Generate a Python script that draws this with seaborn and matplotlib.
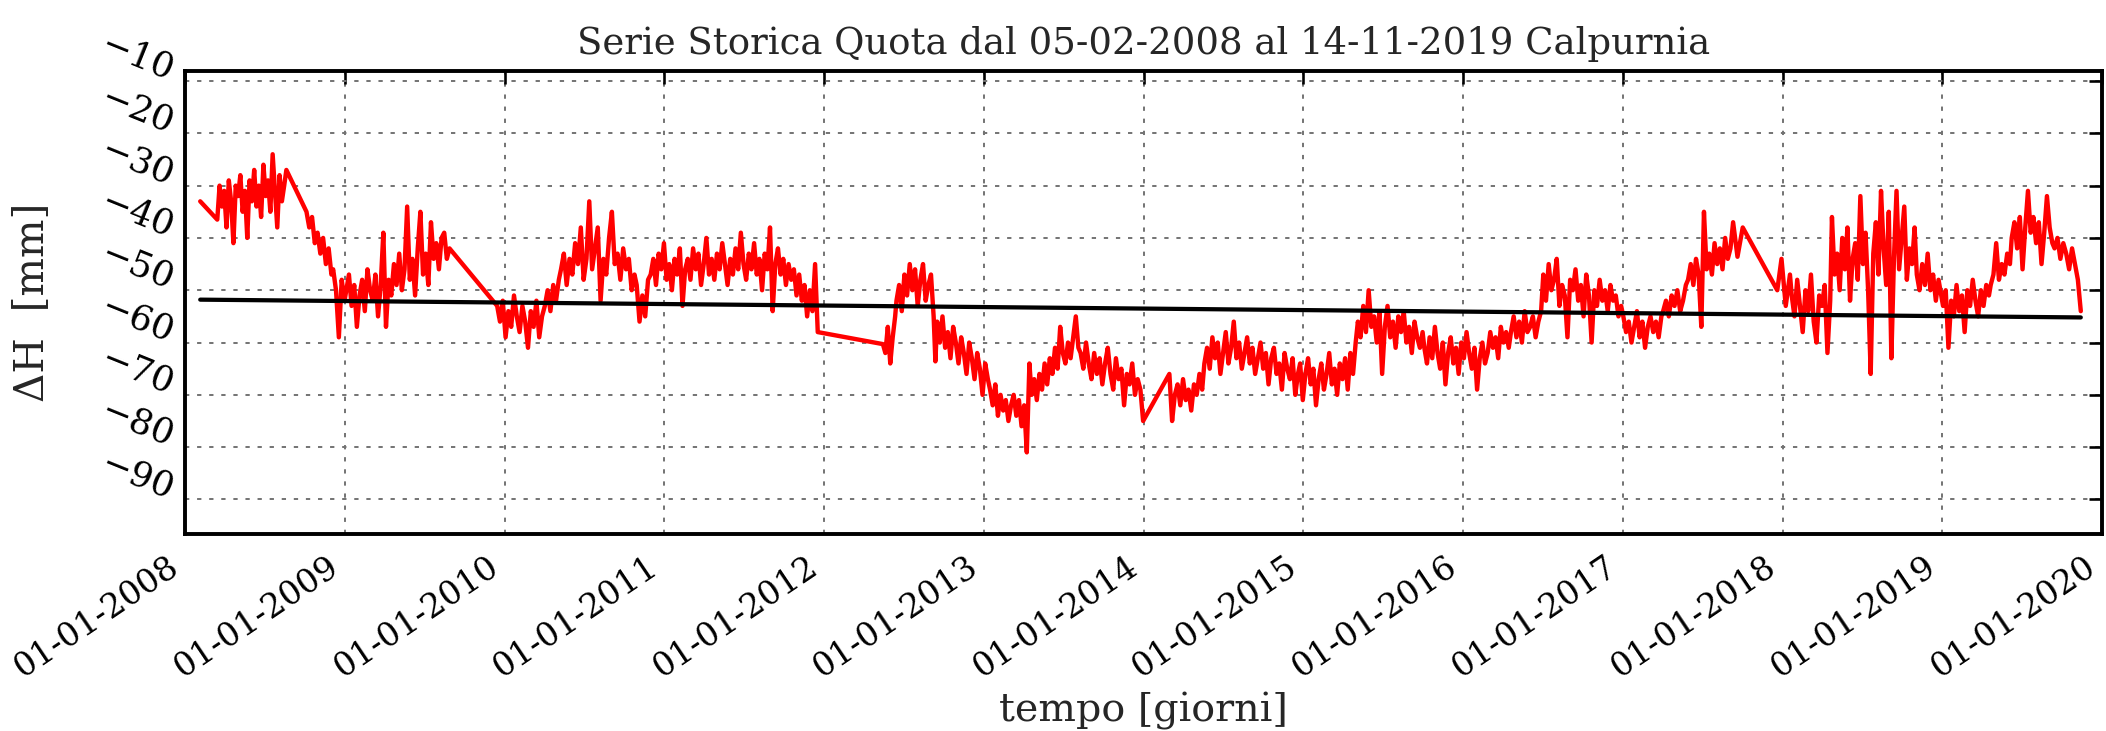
import pandas as pd
import matplotlib
matplotlib.use("Agg")
import matplotlib.pyplot as plt
import matplotlib.dates as mdates
from matplotlib.ticker import MultipleLocator
import seaborn as sns

# quota readings (mm)
q2008_a = [-33]
q2008_b = [-36.5, -30, -34, -31, -38, -29, -33, -41, -30, -32, -28, -35, -31, -40, -29,
           -33, -27, -34, -30, -36, -26, -32, -29, -35, -24, -31, -38, -28, -33, -30]
q2008_c = [-27]
q2008_d = [-35, -38, -36, -41, -39, -43, -40, -45, -42, -47]
q2008_e = [-46, -50, -59, -48, -52]
q2009_a = [-50, -47, -53, -49, -57, -51, -48, -54, -46, -50, -52, -47, -55, -49, -39, -57,
           -48, -51, -45, -49, -43, -50, -46, -34, -48, -44, -51, -42, -35, -47, -43, -49,
           -37, -44, -41, -46, -40, -39, -44, -42]
q2010_a = [-53, -56, -52, -59, -54, -57, -51, -55, -58, -53, -56, -61, -54, -57, -52, -59,
           -55, -53, -50, -54, -49, -52, -48]
q2010_b = [-46, -43, -49, -44, -47, -41, -45, -38, -48, -44, -33, -46, -42, -38, -52, -44,
           -47, -40, -35, -45, -43, -48, -42, -46, -44, -50, -47]
q2010_c = [-49, -56, -51, -55, -48]
q2011_a = [-47, -44, -49, -43, -46, -41, -48, -45, -50, -44, -47, -42, -53, -46, -44, -48,
           -42, -46, -43, -49, -45, -40, -47, -44, -48, -43, -46, -41, -45, -49, -44, -47,
           -42, -46, -39, -45, -48, -43, -46, -41, -47, -44, -50, -43, -46, -38, -54, -45,
           -42, -47, -44, -49, -45, -48, -46, -51, -47, -52, -49, -55, -50, -54, -45, -58]
q2012_a = [-60.3, -62, -57, -64, -59, -55]
q2012_b = [-52, -49, -54, -47, -51, -45, -50, -46, -53, -48, -45, -52, -49, -47, -55]
q2012_c = [-63.6]
q2012_d = [-56, -60, -55, -61, -58, -63, -57, -60, -64, -59, -62, -66, -60, -63, -67, -62,
           -65, -70, -64, -67]
q2013_a = [-69, -72, -68, -74, -70, -73, -71, -75, -72, -70, -74, -71, -76, -72, -81, -64]
q2013_b = [-70, -67, -71, -66, -69, -64, -68, -63, -66, -61, -65, -57, -62, -64, -60, -63,
           -59, -55, -61]
q2013_c = [-62, -65, -60, -64, -67, -62, -66, -63, -68, -64, -61, -66, -69, -63, -67, -65,
           -72, -66, -68, -64, -70, -67, -69, -75]
q2014_a = [-66, -75, -70, -68, -72, -67, -71, -69, -73, -68, -70, -66, -69]
q2014_b = [-64, -61, -65, -59, -63, -60, -66, -62, -58, -64, -61, -56, -63, -60, -65, -62,
           -59, -64, -61, -66, -63, -60, -65, -62, -68, -63, -61, -66, -64, -69, -62, -65,
           -67, -63, -70, -66]
q2015_a = [-64, -71, -66, -63, -68, -65, -72, -67, -64, -69, -66, -62, -68, -65, -70, -64,
           -67, -63, -69, -62, -66, -60]
q2015_b = [-56, -59, -53, -58, -50, -57, -55, -60, -54, -66, -57, -53, -59, -56, -61, -55,
           -58, -54, -60, -57, -62, -56, -59, -61, -58]
q2016_a = [-61, -64, -59, -63, -57, -62, -65, -60, -68, -62, -59, -64, -61, -66, -60, -63,
           -58, -62, -65, -61, -69, -63, -60, -64, -62, -58, -61, -59, -63, -57, -60, -58, -61]
q2016_b = [-58, -55, -59, -56, -60, -54, -58, -57, -55, -59, -56, -54]
q2016_c = [-47, -52, -45, -50, -48, -44, -53, -49, -51, -59, -48, -50, -46, -52, -49, -55,
           -47, -51, -60, -50, -53, -48, -52, -50, -54, -49, -52, -51, -55, -53]
q2017_a = [-55, -58, -56, -60, -57, -54, -59, -56, -61, -57, -55, -58, -56, -59, -55]
q2017_b = [-54, -52, -55, -51, -53, -50, -54, -52, -49]
q2017_c = [-48, -45, -49, -44, -47, -57, -35, -46, -43, -47, -41, -45, -42, -46, -40, -44,
           -42, -37]
q2017_d = [-43.6, -38]
q2018_a = [-50, -44, -53, -47]
q2018_b = [-51, -55, -48, -53, -58, -50, -54, -47, -56, -60, -51, -53, -49, -62, -52]
q2018_c = [-36, -47, -43, -50, -40, -46, -38, -52, -44, -41, -48, -32, -45, -39, -50, -66,
           -43, -37, -47, -31, -42, -49, -35, -63, -44, -31, -46, -40, -34, -48, -42, -45, -38]
q2018_d = [-47, -50, -45, -49, -43, -50, -47, -52, -48, -51]
q2019_a = [-53, -50, -61, -52, -55, -49, -54, -51, -58, -50, -53, -48, -52, -55, -50, -53,
           -49, -51]
q2019_b = [-49, -47, -41, -48, -45, -47, -43, -45]
q2019_c = [-40, -37, -42, -36, -46, -38, -31, -39, -36, -41, -37, -45, -39, -32, -38, -41]
q2019_d = [-42, -40, -44, -41, -43, -46, -42, -45, -48, -54]

# first and last day of each block
blocks = [
    ("2008-02-05", "2008-02-05", q2008_a),
    ("2008-03-15", "2008-08-15", q2008_b),
    ("2008-08-20", "2008-08-20", q2008_c),
    ("2008-10-05", "2008-12-01", q2008_d),
    ("2008-12-05", "2008-12-31", q2008_e),
    ("2009-01-04", "2009-08-28", q2009_a),
    ("2009-12-15", "2010-05-05", q2010_a),
    ("2010-05-10", "2010-10-25", q2010_b),
    ("2010-10-30", "2010-11-25", q2010_c),
    ("2010-12-01", "2011-12-18", q2011_a),
    ("2012-05-15", "2012-06-12", q2012_a),
    ("2012-06-15", "2012-09-08", q2012_b),
    ("2012-09-12", "2012-09-12", q2012_c),
    ("2012-09-16", "2013-01-10", q2012_d),
    ("2013-01-15", "2013-04-15", q2013_a),
    ("2013-04-20", "2013-08-05", q2013_b),
    ("2013-08-10", "2013-12-31", q2013_c),
    ("2014-03-01", "2014-05-15", q2014_a),
    ("2014-05-20", "2014-12-20", q2014_b),
    ("2014-12-25", "2015-05-01", q2015_a),
    ("2015-05-06", "2015-10-01", q2015_b),
    ("2015-10-05", "2016-04-15", q2016_a),
    ("2016-04-20", "2016-06-28", q2016_b),
    ("2016-07-03", "2016-12-28", q2016_c),
    ("2017-01-02", "2017-03-30", q2017_a),
    ("2017-04-03", "2017-05-25", q2017_b),
    ("2017-05-30", "2017-09-10", q2017_c),
    ("2017-09-20", "2017-10-02", q2017_d),
    ("2017-12-20", "2018-01-18", q2018_a),
    ("2018-01-22", "2018-04-20", q2018_b),
    ("2018-04-24", "2018-10-30", q2018_c),
    ("2018-11-04", "2018-12-30", q2018_d),
    ("2019-01-03", "2019-04-18", q2019_a),
    ("2019-04-22", "2019-06-05", q2019_b),
    ("2019-06-09", "2019-09-10", q2019_c),
    ("2019-09-15", "2019-11-14", q2019_d),
]

# linear trend
trend_dates = ["2008-02-05", "2019-11-14"]
trend_vals = [-51.8, -55.2]

parts = []
for start, end, vals in blocks:
    parts.append(pd.DataFrame({"data": pd.date_range(start, end, periods=len(vals)), "dh": vals}))
df = pd.concat(parts, ignore_index=True)

sns.set_style("white")
plt.rcParams["font.family"] = ["DejaVu Serif"]

fig, ax = plt.subplots(figsize=(9, 731 / 234))
fig.subplots_adjust(left=0.0878, right=0.998, bottom=0.2695, top=0.9035)

sns.lineplot(data=df, x="data", y="dh", color="red", lw=1.35, sort=False, estimator=None, ax=ax)
sns.lineplot(x=pd.to_datetime(trend_dates), y=trend_vals, color="black", lw=1.3, ax=ax)

ax.set_xlim(pd.Timestamp("2008-01-01"), pd.Timestamp("2020-01-01"))
ax.set_ylim(-96.6, -8.0)
ax.yaxis.set_major_locator(MultipleLocator(10))
ax.xaxis.set_major_locator(mdates.YearLocator())
ax.xaxis.set_major_formatter(mdates.DateFormatter("%d-%m-%Y"))

ax.grid(True, color="0.45", linestyle=(0, (2.2, 4)), lw=0.6)
ax.tick_params(direction="in", top=True, right=True, length=4, width=0.8, pad=5, colors="black")
ax.tick_params(axis="x", labelsize=10.2)
ax.tick_params(axis="y", labelsize=11)
for s in ax.spines.values():
    s.set_linewidth(1.2)
    s.set_color("black")

ax.set_title("Serie Storica Quota dal 05-02-2008 al 14-11-2019 Calpurnia", fontsize=11.4, pad=5)
ax.set_xlabel("tempo [giorni]", fontsize=12.2)
ax.set_ylabel("ΔH  [mm]", fontsize=12.5)
ax.xaxis.set_label_coords(0.5, -0.34)
ax.yaxis.set_label_coords(-0.069, 0.5)

fig.canvas.draw()
plt.setp(ax.get_xticklabels(), rotation=34, ha="right", va="top")
plt.setp(ax.get_yticklabels(), rotation=-22, ha="right", va="baseline", rotation_mode="anchor")

fig.savefig("out.png", dpi=234)
